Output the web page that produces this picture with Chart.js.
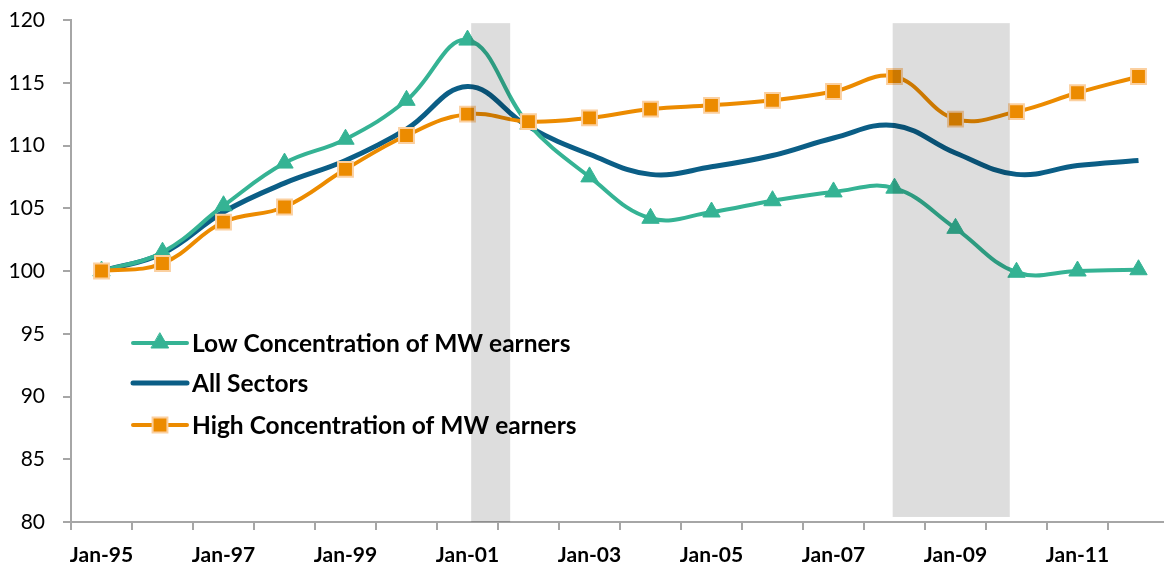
<!DOCTYPE html>
<html>
<head>
<meta charset="utf-8">
<script src="https://cdn.jsdelivr.net/npm/chart.js@4.4.1/dist/chart.umd.min.js"></script>
<style>
  html, body { margin: 0; padding: 0; background: #fff; overflow: hidden; }
  #wrap { width: 1180px; height: 566px; }
</style>
</head>
<body>
<div id="wrap"><canvas id="chart" width="1180" height="566"></canvas></div>
<script>
const years = ['Jan-95', 'Jan-96', 'Jan-97', 'Jan-98', 'Jan-99', 'Jan-00', 'Jan-01', 'Jan-02', 'Jan-03',
    'Jan-04', 'Jan-05', 'Jan-06', 'Jan-07', 'Jan-08', 'Jan-09', 'Jan-10', 'Jan-11', 'Jan-12'];
const lowConc = [100.0, 101.5, 105.2, 108.6, 110.5, 113.6, 118.4, 111.7, 107.5,
    104.2, 104.7, 105.6, 106.3, 106.6, 103.4, 99.9, 100.0, 100.1];
const allSectors = [100.0, 101.4, 104.7, 107.0, 108.8, 111.3, 114.7, 111.5, 109.3,
    107.7, 108.3, 109.2, 110.6, 111.6, 109.4, 107.7, 108.4, 108.8];
const highConc = [100.0, 100.6, 103.9, 105.1, 108.1, 110.8, 112.5, 111.9, 112.2,
    112.9, 113.2, 113.6, 114.3, 115.5, 112.1, 112.7, 114.2, 115.5];
const yTicks = [80, 85, 90, 95, 100, 105, 110, 115, 120];
// recession periods, in fractional years, with value range of the shade
const recessions = [[2001.06, 2001.70, 80, 119.75], [2007.97, 2009.89, 80.4, 119.75]];
const firstYear = 1995;

const axisGrey = '#a6a6a6';

const shadePlugin = {
    id: 'shade',
    afterDatasetsDraw(chart) {
        const { ctx, scales: { x, y } } = chart;
        ctx.save();
        ctx.fillStyle = 'rgba(0, 0, 0, 0.135)';
        recessions.forEach(([s, e, lo, hi]) => {
            const x0 = x.getPixelForValue(s - firstYear);
            const x1 = x.getPixelForValue(e - firstYear);
            const y0 = y.getPixelForValue(hi);
            const y1 = y.getPixelForValue(lo);
            ctx.fillRect(x0, y0, x1 - x0, y1 - y0);
        });
        ctx.restore();
    }
};

const legendPlugin = {
    id: 'insideLegend',
    afterDraw(chart) {
        const ctx = chart.ctx;
        const rows = [343, 383, 425];
        ctx.save();
        chart.data.datasets.forEach((ds, i) => {
            const yy = rows[i];
            ctx.strokeStyle = ds.borderColor;
            ctx.lineWidth = ds.borderWidth;
            ctx.lineCap = 'round';
            ctx.beginPath();
            ctx.moveTo(133, yy);
            ctx.lineTo(187, yy);
            ctx.stroke();
            if (ds.pointRadius > 0) {
                ctx.fillStyle = ds.pointBackgroundColor;
                ctx.strokeStyle = ds.pointBorderColor;
                ctx.lineWidth = ds.pointBorderWidth;
                Chart.helpers.drawPoint(ctx, {
                    pointStyle: ds.pointStyle,
                    radius: ds.pointRadius,
                    borderWidth: ds.pointBorderWidth,
                    rotation: 0
                }, 160, yy);
            }
            ctx.fillStyle = '#000';
            ctx.font = 'bold 24.5px Lato';
            ctx.textBaseline = 'middle';
            ctx.textAlign = 'left';
            ctx.fillText(ds.label, 192, yy + 1);
        });
        ctx.restore();
    }
};

new Chart(document.getElementById('chart').getContext('2d'), {
    type: 'line',
    data: {
        labels: years,
        datasets: [{
            label: 'Low Concentration of MW earners',
            data: lowConc,
            borderColor: '#35b394',
            borderWidth: 4,
            tension: 0.4,
            pointStyle: 'triangle',
            pointRadius: 10,
            pointBackgroundColor: '#35b394',
            pointBorderColor: '#35b394',
            pointBorderWidth: 1,
            order: 1
        }, {
            label: 'All Sectors',
            data: allSectors,
            borderColor: '#0b5e86',
            borderWidth: 5,
            tension: 0.4,
            pointRadius: 0,
            order: 2
        }, {
            label: 'High Concentration of MW earners',
            data: highConc,
            borderColor: '#ec8b00',
            borderWidth: 4,
            tension: 0.4,
            pointStyle: 'rect',
            pointRadius: 10.5,
            pointBackgroundColor: '#ec8b00',
            pointBorderColor: '#fbd0a0',
            pointBorderWidth: 2,
            order: 0
        }]
    },
    options: {
        responsive: false,
        animation: false,
        layout: { autoPadding: false, padding: { top: 0, right: 11, left: 0, bottom: 0 } },
        plugins: {
            legend: { display: false },
            tooltip: { enabled: false }
        },
        scales: {
            x: {
                type: 'category',
                offset: true,
                grid: {
                    offset: true,
                    drawOnChartArea: false,
                    tickLength: 8,
                    color: axisGrey,
                    lineWidth: 2
                },
                border: { color: axisGrey, width: 2 },
                ticks: {
                    autoSkip: false,
                    maxRotation: 0,
                    padding: 13,
                    color: '#000',
                    font: { family: 'Lato', size: 21, weight: 'bold' },
                    callback: (v, i) => (i % 2 === 0 ? years[i] : '')
                },
                afterFit: (scale) => { scale.height = 44; }
            },
            y: {
                min: 80,
                max: 120,
                afterBuildTicks: (scale) => { scale.ticks = yTicks.map(v => ({ value: v })); },
                grid: {
                    drawOnChartArea: false,
                    tickLength: 8,
                    color: axisGrey,
                    lineWidth: 2
                },
                border: { color: axisGrey, width: 2 },
                ticks: {
                    padding: 18,
                    color: '#000',
                    font: { family: 'Lato', size: 21 }
                },
                afterFit: (scale) => {
                    scale.width = 71;
                    scale.paddingTop = 20;
                    scale.paddingBottom = 0;
                }
            }
        }
    },
    plugins: [shadePlugin, legendPlugin]
});
</script>
</body>
</html>
